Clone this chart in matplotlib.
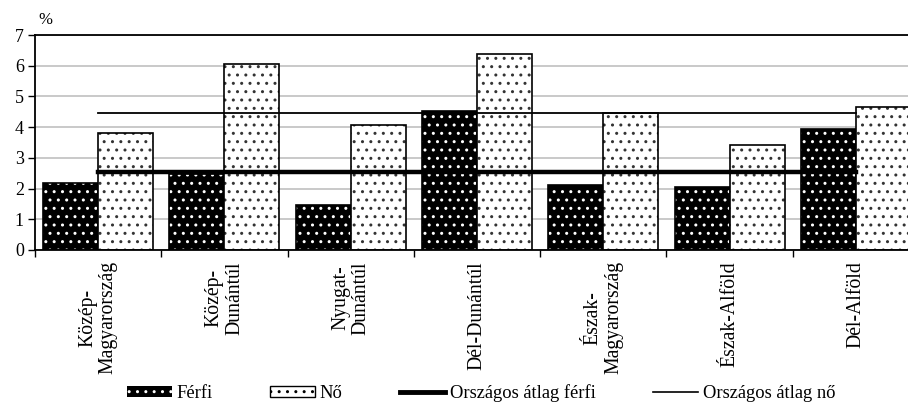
import matplotlib
matplotlib.use("Agg")
import matplotlib.pyplot as plt
import numpy as np
from matplotlib.patches import Patch
from matplotlib.lines import Line2D

categories = ["Közép-\nMagyarország", "Közép-\nDunántúl", "Nyugat-\nDunántúl", "Dél-Dunántúl",
              "Észak-\nMagyarország", "Észak-Alföld", "Dél-Alföld"]
ferfi = [2.18, 2.47, 1.47, 4.53, 2.12, 2.06, 3.93]
no = [3.80, 6.06, 4.07, 6.38, 4.47, 3.42, 4.67]
atlag_ferfi = 2.55
atlag_no = 4.47
yticks = [0, 1, 2, 3, 4, 5, 6, 7]

plt.rcParams['font.family'] = ['Liberation Serif', 'DejaVu Serif']
plt.rcParams['hatch.linewidth'] = 1.0

fig = plt.figure(figsize=(9.08, 4.03), dpi=100)
ax = fig.add_axes([35/908, 1-250/403, 884/908, 215/403])

x = np.arange(len(categories))
w = 0.435
# Férfi: black with white dots
ax.bar(x - w/2, ferfi, w, facecolor='black', edgecolor='white', hatch='..', linewidth=0, zorder=2)
ax.bar(x - w/2, ferfi, w, fill=False, edgecolor='black', linewidth=1.2, zorder=2)
# Nő: white with black dots
ax.bar(x + w/2, no, w, facecolor='white', edgecolor='#333333', hatch='..', linewidth=0, zorder=2)
ax.bar(x + w/2, no, w, fill=False, edgecolor='black', linewidth=1.2, zorder=2)

ax.plot([x[0], x[-1]], [atlag_ferfi]*2, color='black', lw=3.2, zorder=3)
ax.plot([x[0], x[-1]], [atlag_no]*2, color='black', lw=1.3, zorder=3)

ax.set_xlim(-0.5, len(categories) - 0.5)
ax.set_ylim(0, 7)
ax.set_yticks(yticks)
ax.set_yticklabels([str(v) for v in yticks], fontsize=13)
ax.yaxis.grid(True, color='#c0c0c0', lw=1.2, zorder=0)
ax.set_axisbelow(True)
ax.set_xticks(np.arange(len(categories) + 1) - 0.5, minor=False)
ax.set_xticklabels([])
ax.set_xticks(x, minor=True)
ax.set_xticklabels(categories, minor=True, rotation=90, fontsize=14.2, va='top', ha='center', linespacing=1.1)
ax.tick_params(axis='x', which='minor', length=0, pad=8)
ax.tick_params(axis='x', which='major', length=5, width=1, direction='out')
ax.tick_params(axis='y', length=5, width=1, direction='out', pad=3)
for s in ['left', 'bottom', 'top']:
    ax.spines[s].set_linewidth(1.3)
ax.spines['right'].set_visible(False)

fig.text(45/908, 1-20/403, "%", fontsize=12, ha='center', va='center')

handles = [
    Patch(facecolor='black', edgecolor='white', hatch='..', linewidth=0),
    Patch(facecolor='white', edgecolor='black', hatch='..'),
    Line2D([0], [0], color='black', lw=3.5),
    Line2D([0], [0], color='black', lw=1.2),
]
labels = ["Férfi", "Nő", "Országos átlag férfi", "Országos átlag nő"]
fig.legend(handles, labels, loc='center', bbox_to_anchor=(481/908, 1-393/403), ncol=4,
           frameon=False, fontsize=13.3, handlelength=2.45, handletextpad=0.25, columnspacing=3.1,
           handleheight=0.55, borderpad=0)

fig.savefig("out.png", dpi=100)
